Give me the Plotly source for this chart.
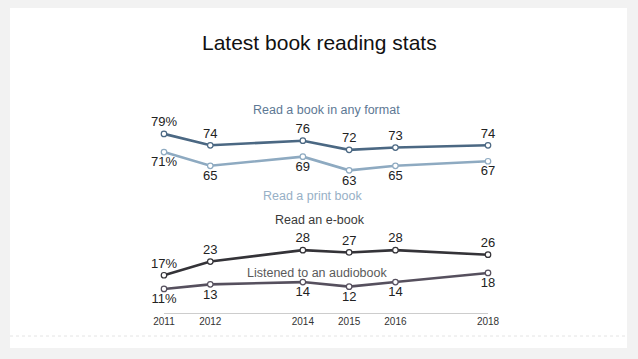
import plotly.graph_objects as go

W, H = 638, 359

years = [2011, 2012, 2014, 2015, 2016, 2018]
tick_labels = ["2011", "2012", "2014", "2015", "2016", "2018"]
any_format = [79, 74, 76, 72, 73, 74]
print_book = [71, 65, 69, 63, 65, 67]
e_book = [17, 23, 28, 27, 28, 26]
audiobook = [11, 13, 14, 12, 14, 18]

series = [
    ("Read a book in any format", any_format, "#4b6883", "top center", "#5d7894", 326, 110),
    ("Read a print book", print_book, "#8eaac1", "bottom center", "#97b0c6", 312, 196),
    ("Read an e-book", e_book, "#343338", "top center", "#3a3a3a", 320, 220),
    ("Listened to an audiobook", audiobook, "#56505e", "bottom center", "#5a5a5a", 317, 273),
]

def px_x(p):
    return p / W

def px_y(p):
    return 1 - p / H

fig = go.Figure()
for name, vals, col, pos, lcol, lx, ly in series:
    txt = [f"{v}%" if i == 0 else str(v) for i, v in enumerate(vals)]
    fig.add_trace(go.Scatter(
        x=years, y=vals, mode="lines+markers+text", name=name,
        text=txt, textposition=pos,
        textfont=dict(size=13, color="#222222"),
        line=dict(color=col, width=2.6),
        marker=dict(size=5.5, color="white", line=dict(color=col, width=1.2)),
        cliponaxis=False, showlegend=False, hoverinfo="skip",
    ))

annotations = [
    dict(text="Latest book reading stats", x=0.5, y=px_y(43), xref="paper", yref="paper",
         showarrow=False, font=dict(size=21, color="#111111"), xanchor="center", yanchor="middle"),
]
for name, vals, col, pos, lcol, lx, ly in series:
    annotations.append(dict(text=name, x=px_x(lx), y=px_y(ly), xref="paper", yref="paper",
                            showarrow=False, font=dict(size=12.5, color=lcol),
                            xanchor="center", yanchor="middle"))

shapes = [
    dict(type="rect", xref="paper", yref="paper", x0=px_x(10), x1=px_x(627),
         y0=px_y(348), y1=px_y(8), fillcolor="white", line=dict(width=0), layer="below"),
    dict(type="line", xref="paper", yref="paper", x0=px_x(10), x1=px_x(627),
         y0=px_y(336), y1=px_y(336), line=dict(color="#e4e4e4", width=1, dash="dot"), layer="below"),
    dict(type="line", xref="x", yref="y", x0=years[0], x1=years[-1], y0=0, y1=0,
         line=dict(color="#9a9a9a", width=1), layer="below"),
]

fig.update_layout(
    width=W, height=H,
    margin=dict(l=0, r=0, t=0, b=0),
    paper_bgcolor="#f2f2f2", plot_bgcolor="rgba(0,0,0,0)",
    font=dict(family="Liberation Sans, Arial, sans-serif"),
    xaxis=dict(domain=[140.85 / W, 511.15 / W], range=[2010.5, 2018.5],
               tickvals=years, ticktext=tick_labels, showgrid=False, zeroline=False,
               showline=False, ticks="", tickfont=dict(size=10, color="#333333")),
    yaxis=dict(domain=[1 - 314 / H, 1 - 120.2 / H], range=[0, 85], visible=False,
               showgrid=False, zeroline=False),
    annotations=annotations, shapes=shapes,
)

fig.write_html("out.html", config={"displayModeBar": False},
               post_script="document.body.style.margin='0';document.body.style.overflow='hidden';")
